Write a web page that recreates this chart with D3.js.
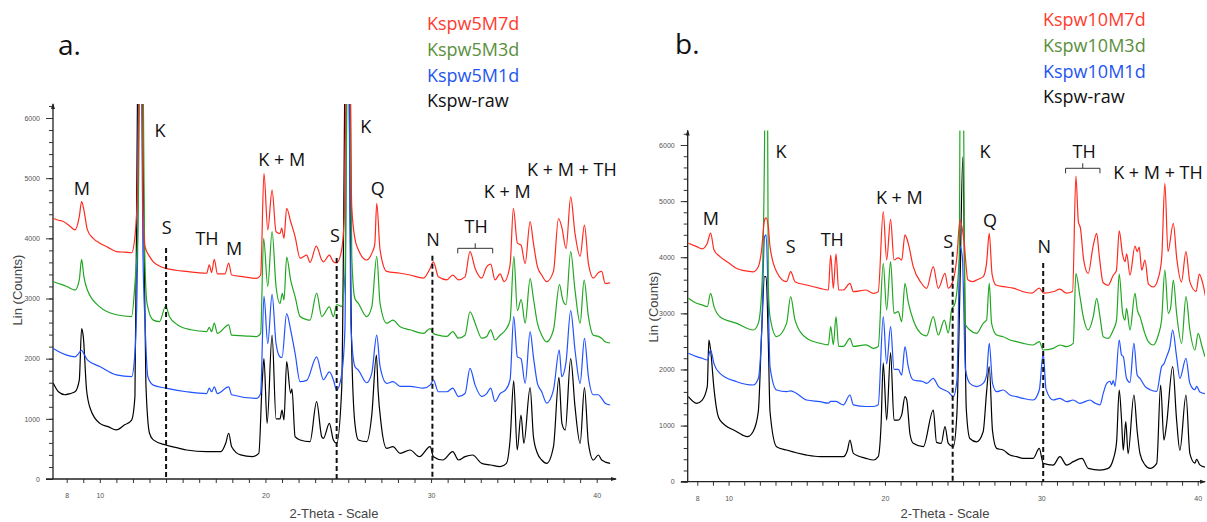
<!DOCTYPE html>
<html lang="en">
<head>
<meta charset="UTF-8">
<title>XRD patterns</title>
<style>
  body { margin: 0; background: #fff; }
  svg { display: block; }
</style>
</head>
<body>
<svg id="chart"></svg>
<script src="https://d3js.org/d3.v7.min.js"></script>
<script>
// series names, top to bottom in each legend
const namesA = ["Kspw5M7d", "Kspw5M3d", "Kspw5M1d", "Kspw-raw"];
const namesB = ["Kspw10M7d", "Kspw10M3d", "Kspw10M1d", "Kspw-raw"];

const xTickLabels = [8, 10, 20, 30, 40];
const yTickLabels = [0, 1000, 2000, 3000, 4000, 5000, 6000];

// [2-theta, counts]
const a7d = [[7.19,4330],[7.5,4300],[7.8,4280],[8.2,4200],[8.5,4140],[8.76,4360],[8.9,4610],[9.04,4470],[9.25,4140],[9.6,4000],[10.0,3920],[10.5,3850],[11.0,3780],[11.5,3770],[11.92,3760],[12.12,4030],[12.3,5000],[12.47,9500],[12.6,4550],[12.73,3860],[13.0,3700],[13.23,3610],[13.6,3540],[13.98,3500],[14.6,3470],[15.24,3450],[15.9,3430],[16.45,3420],[16.61,3560],[16.75,3430],[16.91,3650],[17.1,3410],[17.56,3410],[17.78,3590],[17.96,3390],[18.7,3360],[19.47,3335],[19.71,3390],[19.91,5080],[20.14,4140],[20.4,4800],[20.64,4110],[20.88,4080],[20.98,4170],[21.12,4000],[21.28,4500],[21.52,4280],[21.79,4030],[22.09,3670],[22.49,3720],[22.69,3600],[23.07,3870],[23.4,3640],[23.5,3610],[23.86,3720],[24.1,3610],[24.3,3590],[24.6,3810],[24.75,4300],[25.0,9500],[25.21,4530],[25.4,4000],[25.61,3810],[26.11,3640],[26.42,3750],[26.6,3900],[26.72,4580],[26.92,3810],[27.32,3450],[28.13,3420],[28.73,3390],[29.54,3340],[29.94,3500],[30.14,3610],[30.44,3360],[30.95,3310],[31.31,3390],[31.65,3310],[32.05,3360],[32.35,3780],[32.66,3500],[33.06,3340],[33.36,3530],[33.6,3570],[33.86,3310],[34.17,3410],[34.41,3280],[34.77,3560],[34.97,4500],[35.21,3920],[35.43,3890],[35.68,3580],[35.98,4280],[36.18,3920],[36.42,3530],[36.68,3390],[36.98,3280],[37.39,3450],[37.69,4330],[37.89,4190],[38.15,3830],[38.43,4690],[38.69,4080],[39.0,3700],[39.26,4220],[39.5,3580],[39.8,3340],[40.1,3430],[40.3,3450],[40.51,3250],[40.81,3260]];
const a3d = [[7.19,3280],[7.5,3250],[8.0,3200],[8.5,3140],[8.76,3310],[8.9,3650],[9.04,3360],[9.25,3140],[10.0,2860],[11.0,2730],[11.92,2700],[12.12,3250],[12.3,4140],[12.52,9500],[12.7,3900],[12.85,2920],[13.23,2640],[13.6,2615],[13.98,2875],[14.2,2700],[14.7,2560],[15.5,2480],[16.45,2450],[16.61,2520],[16.75,2450],[16.91,2590],[17.1,2420],[17.78,2560],[17.96,2390],[18.7,2380],[19.47,2366],[19.71,2420],[19.89,4000],[20.14,3200],[20.4,4110],[20.64,3200],[20.88,2920],[21.02,3086],[21.12,2975],[21.28,3690],[21.52,3310],[21.79,3030],[22.09,2700],[22.49,2650],[22.69,2640],[23.09,3090],[23.4,2700],[23.86,2860],[24.1,2700],[24.3,2900],[24.6,2870],[24.8,3400],[25.05,9500],[25.21,3700],[25.4,3000],[25.61,2920],[26.11,2700],[26.42,2860],[26.72,3700],[26.92,2920],[27.32,2590],[27.7,2640],[28.13,2530],[28.73,2480],[29.54,2420],[29.94,2500],[30.14,2420],[30.44,2390],[30.95,2370],[31.31,2450],[31.65,2340],[32.05,2390],[32.35,2780],[32.66,2590],[33.06,2340],[33.36,2370],[33.6,2480],[33.86,2310],[34.17,2390],[34.5,2480],[34.77,2640],[35.0,3700],[35.21,2800],[35.44,2980],[35.68,2590],[35.98,3330],[36.18,3000],[36.42,2590],[36.68,2390],[36.98,2280],[37.39,2480],[37.75,3230],[37.95,2980],[38.15,2900],[38.43,3780],[38.69,3140],[39.0,2590],[39.24,3307],[39.5,2700],[39.8,2390],[40.1,2370],[40.3,2340],[40.51,2280],[40.81,2260]];
const a1d = [[7.19,2170],[7.5,2120],[8.0,2060],[8.5,2030],[8.76,2100],[8.9,2140],[9.04,2080],[9.25,1980],[10.0,1870],[11.0,1730],[11.92,1700],[12.12,2100],[12.27,3500],[12.42,9500],[12.6,3800],[12.73,2590],[12.9,1700],[13.23,1560],[13.98,1510],[15.24,1450],[16.45,1420],[16.61,1510],[16.75,1450],[16.91,1530],[17.1,1420],[17.78,1530],[17.96,1400],[19.47,1340],[19.71,1420],[19.91,3040],[20.14,2250],[20.4,3070],[20.64,2250],[20.88,2030],[21.0,2020],[21.28,2750],[21.52,2480],[21.79,2090],[22.09,1620],[22.49,1640],[23.09,2030],[23.5,1650],[23.86,1780],[24.1,1650],[24.3,1480],[24.6,1730],[24.8,2500],[24.97,9500],[25.15,2600],[25.4,1870],[25.61,1810],[26.11,1600],[26.42,1760],[26.72,2390],[26.92,1870],[27.32,1590],[27.7,1620],[28.13,1540],[28.73,1540],[29.54,1510],[29.94,1560],[30.14,1645],[30.44,1450],[30.95,1450],[31.31,1510],[31.65,1370],[32.05,1420],[32.35,1840],[32.66,1560],[33.06,1370],[33.36,1420],[33.6,1510],[33.86,1290],[34.17,1420],[34.5,1480],[34.77,1650],[34.99,2700],[35.21,2030],[35.43,2000],[35.68,1590],[35.98,2450],[36.18,2030],[36.42,1590],[36.68,1450],[36.98,1260],[37.39,1480],[37.74,2144],[37.89,1700],[38.15,1950],[38.43,2800],[38.69,2144],[39.0,1590],[39.26,2338],[39.5,1700],[39.8,1400],[40.1,1400],[40.3,1340],[40.51,1260],[40.81,1230]];
const aRaw = [[7.19,1590],[7.5,1450],[7.9,1400],[8.2,1420],[8.5,1450],[8.76,1645],[8.9,2500],[9.0,2370],[9.2,1480],[9.45,1150],[10.0,925],[10.5,870],[11.0,815],[11.5,900],[11.92,980],[12.12,1370],[12.25,5500],[12.38,9500],[12.62,5200],[12.78,1600],[13.0,760],[13.23,650],[13.98,565],[14.8,510],[15.24,482],[16.45,454],[17.3,454],[17.6,593],[17.78,760],[17.96,537],[18.5,400],[19.2,371],[19.6,427],[19.8,1590],[19.91,2000],[20.1,925],[20.4,2390],[20.64,1000],[20.88,1000],[21.0,1147],[21.12,981],[21.28,1950],[21.52,1424],[21.6,1500],[21.79,704],[22.09,648],[22.69,620],[23.09,1285],[23.4,700],[23.5,676],[23.86,925],[24.1,648],[24.3,593],[24.6,1479],[24.93,9500],[25.2,2255],[25.4,925],[25.61,648],[26.11,620],[26.42,1064],[26.7,2061],[26.8,1479],[26.98,925],[27.32,510],[27.7,537],[28.13,427],[28.73,482],[29.3,371],[29.94,537],[30.14,371],[30.7,316],[31.31,454],[31.65,316],[32.05,371],[32.5,399],[33.06,260],[33.6,233],[34.17,205],[34.55,260],[34.77,648],[34.99,1630],[35.2,482],[35.43,1064],[35.6,593],[35.98,1520],[36.18,704],[36.42,427],[36.68,316],[36.98,260],[37.39,537],[37.72,1690],[37.9,925],[38.1,814],[38.43,2000],[38.69,1202],[39.0,593],[39.26,1520],[39.5,593],[39.8,316],[40.1,399],[40.3,316],[40.81,260]];

const b7d = [[7.43,4250],[7.96,4190],[8.3,4150],[8.64,4250],[8.85,4430],[9.07,4130],[9.45,4010],[10.0,3900],[10.52,3800],[11.0,3760],[11.58,3740],[11.9,3830],[12.1,4100],[12.3,4663],[12.4,4700],[12.54,4545],[12.65,4188],[13.07,3743],[13.71,3565],[13.97,3743],[14.25,3565],[14.99,3505],[15.85,3446],[16.38,3416],[16.53,4040],[16.7,3446],[16.87,4060],[17.04,3416],[17.34,3416],[17.76,3535],[17.98,3386],[18.79,3416],[19.26,3357],[19.57,3386],[19.89,4812],[20.11,3951],[20.36,4676],[20.58,3951],[20.85,3990],[21.07,3950],[21.28,4400],[21.49,4248],[21.81,3832],[22.3,3550],[22.67,3446],[23.09,3832],[23.41,3446],[23.84,3713],[24.05,3450],[24.37,3594],[24.6,4000],[24.8,4660],[25.05,4300],[25.3,3600],[25.6,3565],[25.9,3600],[26.3,3660],[26.5,3900],[26.67,4426],[26.85,3700],[27.1,3505],[27.6,3475],[28.2,3450],[28.8,3390],[29.4,3360],[29.87,3450],[30.15,3360],[30.8,3390],[31.19,3430],[31.6,3360],[32.0,3390],[32.21,5448],[32.37,4630],[32.5,4520],[32.71,3950],[33.0,3710],[33.3,4180],[33.54,4426],[33.7,4040],[33.95,3550],[34.27,3500],[34.6,3680],[34.8,3760],[34.98,4470],[35.2,4040],[35.35,3920],[35.46,4060],[35.67,3680],[35.99,4200],[36.13,4100],[36.26,4180],[36.42,3770],[36.63,3950],[36.85,3520],[37.17,3470],[37.5,3650],[37.7,4000],[37.9,5317],[38.1,4100],[38.44,4605],[38.66,3980],[38.96,3560],[39.25,4100],[39.5,3560],[39.9,3390],[40.1,3700],[40.3,3560],[40.5,3300]];
const b3d = [[7.43,3268],[7.96,3179],[8.3,3150],[8.64,3119],[8.85,3357],[9.07,3119],[9.45,2941],[10.52,2822],[11.58,2703],[11.9,2822],[12.12,3400],[12.3,6000],[12.37,9500],[12.45,9500],[12.54,3500],[12.65,2940],[13.07,2584],[13.71,2822],[13.97,3297],[14.25,2880],[14.99,2555],[15.85,2466],[16.38,2440],[16.53,2762],[16.7,2440],[16.87,2941],[17.04,2410],[17.34,2410],[17.76,2555],[17.98,2410],[18.79,2440],[19.26,2377],[19.57,2410],[19.89,3891],[20.11,3060],[20.36,3921],[20.58,3000],[20.85,3030],[21.07,2851],[21.28,3535],[21.49,3200],[21.81,2881],[22.45,2614],[22.67,2600],[23.09,2941],[23.41,2614],[23.8,2881],[24.05,2650],[24.26,3060],[24.48,3179],[24.75,4000],[24.85,9500],[24.97,9500],[25.11,2822],[25.43,2703],[25.86,2644],[26.28,2822],[26.5,2881],[26.67,3535],[26.82,2822],[27.14,2614],[27.56,2584],[27.99,2525],[28.42,2496],[28.84,2466],[29.48,2436],[29.87,2496],[30.12,2347],[30.76,2377],[31.19,2436],[31.62,2406],[32.04,2466],[32.21,3713],[32.47,3300],[32.68,2941],[33.0,2703],[33.32,2941],[33.54,3268],[33.75,2941],[33.96,2584],[34.28,2555],[34.6,2703],[34.81,2881],[34.98,3700],[35.2,3000],[35.35,2881],[35.45,3090],[35.67,2703],[35.99,3357],[36.14,3060],[36.31,2941],[36.62,2644],[36.84,2496],[37.16,2436],[37.48,2614],[37.69,2881],[37.9,3772],[38.12,3000],[38.27,3100],[38.44,3594],[38.65,3000],[38.97,2466],[39.25,3297],[39.5,2703],[39.82,2347],[40.03,2644],[40.25,2436],[40.46,2228]];
const b1d = [[7.43,2288],[7.96,2228],[8.3,2200],[8.64,2169],[8.85,2347],[9.07,2100],[9.45,1931],[10.52,1782],[11.58,1723],[11.9,1840],[12.12,2700],[12.3,4366],[12.4,4400],[12.54,3200],[12.65,2050],[13.07,1634],[13.71,1604],[13.97,1620],[14.25,1590],[14.99,1456],[15.85,1426],[16.38,1400],[16.53,1430],[16.87,1430],[17.34,1370],[17.76,1545],[17.98,1370],[18.79,1340],[19.26,1340],[19.57,1370],[19.89,2941],[20.11,2100],[20.36,2762],[20.58,2000],[20.85,2000],[21.07,1900],[21.28,2406],[21.49,2050],[21.81,1812],[22.45,1782],[22.67,1752],[23.09,1842],[23.41,1700],[23.8,1634],[24.05,1600],[24.37,1515],[24.6,1800],[24.8,4200],[24.95,4000],[25.15,2000],[25.43,1752],[25.86,1693],[26.28,1752],[26.5,1900],[26.67,2466],[26.88,1752],[27.14,1604],[27.56,1634],[27.99,1545],[28.42,1515],[28.84,1485],[29.48,1456],[29.87,1634],[30.12,2288],[30.3,1650],[30.76,1456],[31.19,1485],[31.62,1426],[32.04,1456],[32.47,1397],[33.11,1456],[33.43,1400],[33.75,1370],[33.96,1575],[34.18,1753],[34.39,1790],[34.5,1730],[34.6,1800],[34.71,1700],[34.98,2525],[35.13,2258],[35.24,2230],[35.45,1840],[35.67,1770],[35.92,2466],[36.13,1900],[36.31,1840],[36.63,1700],[36.95,1640],[37.38,1610],[37.69,2049],[37.84,2100],[38.01,2228],[38.22,2400],[38.4,2703],[38.65,2228],[38.86,1840],[39.25,2199],[39.5,1750],[39.82,1640],[39.93,1700],[40.14,1600],[40.46,1570]];
const bRaw = [[7.43,1515],[7.96,1397],[8.3,1450],[8.64,1700],[8.74,2525],[8.85,2347],[9.07,1650],[9.3,1200],[9.45,1099],[10.52,891],[10.9,830],[11.2,802],[11.58,900],[11.9,1250],[12.12,2700],[12.3,3654],[12.4,3654],[12.54,2500],[12.65,1250],[13.07,624],[13.71,564],[14.99,475],[15.85,446],[17.34,446],[17.6,560],[17.76,742],[17.98,505],[18.79,416],[19.26,387],[19.57,446],[19.75,1000],[19.89,2120],[20.11,1099],[20.36,2300],[20.58,1099],[20.85,1099],[21.07,1190],[21.28,1515],[21.4,1450],[21.6,850],[21.81,684],[22.45,624],[23.09,1277],[23.3,700],[23.6,684],[23.84,980],[24.05,684],[24.37,624],[24.6,1200],[24.8,3500],[24.98,5790],[25.2,1300],[25.43,770],[25.86,710],[26.28,890],[26.5,1600],[26.67,2049],[26.88,900],[27.14,594],[27.56,564],[27.99,475],[28.42,446],[28.84,416],[29.48,416],[29.87,594],[30.12,327],[30.76,297],[31.19,446],[31.62,297],[32.04,357],[32.6,416],[33.0,238],[33.75,208],[34.28,238],[34.6,400],[34.81,700],[34.98,1634],[35.13,1100],[35.24,560],[35.4,1069],[35.55,500],[35.92,1545],[36.13,900],[36.31,500],[36.63,300],[36.95,238],[37.38,327],[37.63,1723],[37.84,740],[38.0,1000],[38.4,2049],[38.65,1100],[38.86,560],[39.25,1545],[39.5,500],[39.82,330],[39.93,400],[40.14,300],[40.46,260]];

// phase labels [text, 2-theta, counts]
const phasesA = [["M",8.91,4820],["K",13.63,5800],["S",14.04,4172],["TH",16.47,3989],["M",18.1,3839],["K + M",20.98,5302],["S",24.2,4055],["K",26.06,5855],["Q",26.78,4836],["N",30.12,3972],["TH",32.72,4193],["K + M",34.6,4775],["K + M + TH",38.5,5152]];
const phasesB = [["M",8.86,4696],["K",13.35,5881],["S",13.97,4188],["TH",16.63,4307],["K + M",20.92,5056],["S",24.05,4277],["K",26.4,5881],["Q",26.72,4663],["N",30.19,4188],["TH",32.74,5881],["K + M + TH",37.46,5501]];
// dashed markers [2-theta, counts at top]
const dashesA = [[14.0,3839],[24.3,3673],[30.08,3711]];
const dashesB = [[24.33,4099],[30.12,3897]];
// TH bracket [from, to, counts]
const bracketA = [31.61, 33.72, 3834];
const bracketB = [31.55, 33.75, 5585];

const lineColors = ["#ff2a1f", "#22a722", "#2152ff", "#000000"];
const legendColors = ["#ff3b2f", "#5b8f3d", "#1f55f0", "#111111"];

const svg = d3.select("#chart").attr("width", 1207).attr("height", 522);

const panels = [
  { label: "a.", names: namesA, traces: [a7d, a3d, a1d, aRaw], phases: phasesA, dashes: dashesA, bracket: bracketA,
    x: d3.scaleLinear([8, 40], [66.7, 596.7]), y: d3.scaleLinear([0, 6000], [479, 118]),
    axisX: 53, xLine: [46, 616], yTop: 104, labelAt: [58, 55], legendAt: [427, 24], xTitleAt: [334, 518], yTitleAt: [17, 290] },
  { label: "b.", names: namesB, traces: [b7d, b3d, b1d, bRaw], phases: phasesB, dashes: dashesB, bracket: bracketB,
    x: d3.scaleLinear([8, 40], [697.3, 1197.7]), y: d3.scaleLinear([0, 6000], [481.7, 145]),
    axisX: 687.7, xLine: [681, 1205], yTop: 130.5, labelAt: [675, 54], legendAt: [1043, 20], xTitleAt: [945, 518], yTitleAt: [653, 307] }
];

panels.forEach((p, k) => {
  const g = svg.append("g");
  const axisX = p.axisX;
  const y0 = p.y(0);

  // clip traces at the top of the y axis
  svg.append("clipPath").attr("id", "clip" + k)
    .append("rect").attr("x", axisX).attr("y", p.yTop)
    .attr("width", p.xLine[1] - axisX).attr("height", y0 - p.yTop);

  // y axis: minor + major ticks
  g.append("g").attr("transform", `translate(${axisX},0)`)
    .call(d3.axisLeft(p.y).tickValues(d3.range(0, 6201, 200)).tickSize(4).tickFormat(""))
    .call(s => s.select(".domain").remove())
    .call(s => s.selectAll("line").attr("stroke", "#333"));
  g.append("g").attr("transform", `translate(${axisX},0)`)
    .call(d3.axisLeft(p.y).tickValues(yTickLabels).tickSize(7).tickPadding(6).tickFormat(d3.format("d")))
    .call(s => s.select(".domain").remove())
    .call(s => s.selectAll("line").attr("stroke", "#333"))
    .call(s => s.selectAll("text").attr("font-family", "Liberation Sans, Arial, sans-serif")
      .attr("font-size", 7).attr("fill", "#555"));

  // x axis
  g.append("g").attr("transform", `translate(0,${y0})`)
    .call(d3.axisBottom(p.x).tickValues(d3.range(8, 41)).tickSize(4).tickPadding(10)
      .tickFormat(d => xTickLabels.includes(d) ? d : ""))
    .call(s => s.select(".domain").remove())
    .call(s => s.selectAll("line").attr("stroke", "#333"))
    .call(s => s.selectAll("text").attr("font-family", "Liberation Sans, Arial, sans-serif")
      .attr("font-size", 7).attr("fill", "#555"));

  // axis lines with arrow heads
  g.append("path").attr("fill", "none").attr("stroke", "#222").attr("stroke-width", 1.3)
    .attr("d", `M${axisX},${y0}V${p.yTop} M${p.xLine[0]},${y0}H${p.xLine[1]}`);
  g.append("path").attr("fill", "#222")
    .attr("d", `M${axisX - 2},${p.yTop + 5}L${axisX},${p.yTop - 1}L${axisX + 2},${p.yTop + 5}Z`
      + `M${p.xLine[1] - 5},${y0 - 2}L${p.xLine[1] + 1},${y0}L${p.xLine[1] - 5},${y0 + 2}Z`);

  // axis titles
  g.append("text").attr("x", p.xTitleAt[0]).attr("y", p.xTitleAt[1])
    .attr("text-anchor", "middle").attr("font-family", "Liberation Sans, Arial, sans-serif")
    .attr("font-size", 13).attr("fill", "#444").text("2-Theta - Scale");
  g.append("text").attr("transform", `translate(${p.yTitleAt[0]},${p.yTitleAt[1]}) rotate(-90)`)
    .attr("text-anchor", "middle").attr("dy", "0.35em").attr("font-family", "Liberation Sans, Arial, sans-serif")
    .attr("font-size", 13).attr("fill", "#444").text("Lin (Counts)");

  // traces, raw first so the treated samples sit on top
  const line = d3.line().x(d => p.x(d[0])).y(d => p.y(d[1])).curve(d3.curveMonotoneX);
  const order = [3, 2, 1, 0];
  g.append("g").attr("clip-path", `url(#clip${k})`)
    .selectAll("path").data(order).join("path")
    .attr("fill", "none").attr("stroke", i => lineColors[i]).attr("stroke-width", 1.2)
    .attr("stroke-linejoin", "round")
    .attr("d", i => line(p.traces[i]));

  // dashed markers
  g.selectAll(".dash").data(p.dashes).join("line").attr("class", "dash")
    .attr("x1", d => p.x(d[0])).attr("x2", d => p.x(d[0]))
    .attr("y1", d => p.y(d[1])).attr("y2", y0)
    .attr("stroke", "#111").attr("stroke-width", 2).attr("stroke-dasharray", "5,3");

  // TH bracket
  const bx1 = p.x(p.bracket[0]), bx2 = p.x(p.bracket[1]), by = p.y(p.bracket[2]);
  g.append("path").attr("fill", "none").attr("stroke", "#333").attr("stroke-width", 1)
    .attr("d", `M${bx1},${by + 5}V${by}H${bx2}V${by + 5} M${(bx1 + bx2) / 2},${by}V${by - 5}`);

  // phase labels
  g.selectAll(".phase").data(p.phases).join("text").attr("class", "phase")
    .attr("x", d => p.x(d[1])).attr("y", d => p.y(d[2])).attr("dy", "0.36em")
    .attr("text-anchor", "middle").attr("font-family", "Open Sans, sans-serif")
    .attr("font-size", 18).attr("fill", "#111").text(d => d[0]);

  // legend
  g.selectAll(".legend").data(p.names).join("text").attr("class", "legend")
    .attr("x", p.legendAt[0]).attr("y", (d, i) => p.legendAt[1] + i * 25.6).attr("dy", "0.36em")
    .attr("font-family", "Open Sans, sans-serif").attr("font-size", 18)
    .attr("fill", (d, i) => legendColors[i]).text(d => d);

  // panel letter
  g.append("text").attr("x", p.labelAt[0]).attr("y", p.labelAt[1])
    .attr("font-family", "Open Sans, sans-serif").attr("font-size", 28).attr("fill", "#111").text(p.label);
});
</script>
</body>
</html>
